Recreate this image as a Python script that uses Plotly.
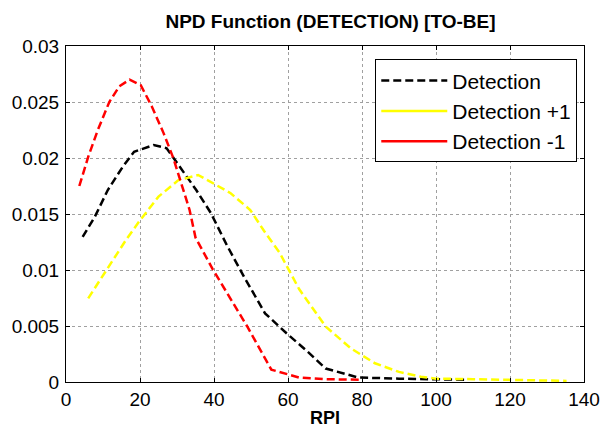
import plotly.graph_objects as go

# Detection (black, dashed)
det_x = [4.5, 7.8, 11.3, 15.3, 18.4, 23.7, 27.2, 30.8, 35.2, 39.2, 43.5, 48.1, 53.8, 59.6, 65.0, 70.2, 79.0, 90.0, 100.0, 107.8]
det_y = [0.01295, 0.01476, 0.01714, 0.0192, 0.02056, 0.02116, 0.02087, 0.0192, 0.01714, 0.01506, 0.0122, 0.0094, 0.00613, 0.00435, 0.0028, 0.0012, 0.0004, 0.0003, 0.00022, 0.0002]

# Detection +1 (yellow, dashed)
plus_x = [6.0, 10.9, 16.2, 19.7, 25.0, 30.3, 35.7, 40.0, 44.5, 49.8, 53.5, 57.8, 63.0, 70.2, 77.0, 83.5, 90.0, 95.9, 100.0, 110.0, 120.0, 135.3]
plus_y = [0.00747, 0.0100, 0.01268, 0.0143, 0.01655, 0.0180, 0.01848, 0.0177, 0.01685, 0.01536, 0.0135, 0.0115, 0.0083, 0.00494, 0.0030, 0.00167, 0.0009, 0.00047, 0.0003, 0.00025, 0.0002, 0.0001]

# Detection -1 (red, dashed)
minus_x = [3.6, 6.0, 8.6, 11.7, 14.4, 17.2, 20.2, 23.2, 26.4, 29.0, 33.4, 35.0, 39.6, 44.0, 48.9, 55.5, 60.4, 63.0, 70.0, 80.0]
minus_y = [0.0175, 0.0201, 0.0225, 0.0250, 0.0264, 0.0270, 0.0265, 0.0246, 0.0222, 0.0200, 0.01536, 0.0129, 0.0101, 0.0077, 0.0050, 0.0011, 0.0006, 0.0004, 0.00025, 0.0002]

x_ticks = [0, 20, 40, 60, 80, 100, 120, 140]
y_ticks = [0, 0.005, 0.01, 0.015, 0.02, 0.025, 0.03]
y_tick_text = ["0", "0.005", "0.01", "0.015", "0.02", "0.025", "0.03"]

FONT = "Liberation Sans, Arial"
DASH = "8px,4px"
LW = 2.5

fig = go.Figure()
fig.add_trace(go.Scatter(x=det_x, y=det_y, mode="lines", name="Detection",
                         line=dict(color="#000000", width=LW, dash=DASH), showlegend=True))
fig.add_trace(go.Scatter(x=plus_x, y=plus_y, mode="lines", name="Detection +1",
                         line=dict(color="#FFFF00", width=LW, dash=DASH), showlegend=False))
fig.add_trace(go.Scatter(x=minus_x, y=minus_y, mode="lines", name="Detection -1",
                         line=dict(color="#FF0000", width=LW, dash=DASH), showlegend=False))
# legend entries (MATLAB shows solid samples for these)
fig.add_trace(go.Scatter(x=[None], y=[None], mode="lines", name="Detection +1",
                         line=dict(color="#FFFF00", width=LW)))
fig.add_trace(go.Scatter(x=[None], y=[None], mode="lines", name="Detection -1",
                         line=dict(color="#FF0000", width=LW)))

axis_common = dict(
    showline=True, linecolor="black", linewidth=1, mirror="allticks",
    ticks="inside", ticklen=4, tickcolor="black",
    showgrid=True, gridcolor="#a0a0a0", griddash="dot", gridwidth=1,
    zeroline=False,
    tickfont=dict(family=FONT, size=19, color="black"),
)

fig.update_xaxes(range=[0, 140], tickvals=x_ticks, ticktext=[str(v) for v in x_ticks],
                 title=dict(text="<b>RPI</b>", font=dict(family=FONT, size=18, color="black"),
                            standoff=2),
                 **axis_common)
fig.update_yaxes(range=[0, 0.03], tickvals=y_ticks, ticktext=y_tick_text, ticklabelstandoff=2,
                 **axis_common)

fig.update_layout(
    width=612, height=437,
    margin=dict(l=65, r=20, t=46, b=55),
    paper_bgcolor="white", plot_bgcolor="white",
    title=dict(text="<b>NPD Function (DETECTION) [TO-BE]</b>", x=0.54, xanchor="center",
               y=0.952, yanchor="middle",
               font=dict(family=FONT, size=19, color="black")),
    legend=dict(x=0.987, y=0.96, xanchor="right", yanchor="top",
                bgcolor="white", bordercolor="black", borderwidth=1,
                font=dict(family=FONT, size=21, color="black"),
                itemwidth=66, tracegroupgap=0),
    showlegend=True,
)

fig.write_html("out.html", config={"displayModeBar": False},
               post_script="document.body.style.margin='0';")
